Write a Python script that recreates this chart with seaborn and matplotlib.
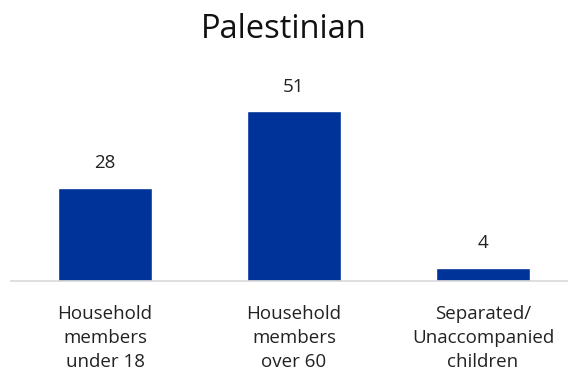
import matplotlib
matplotlib.use('Agg')
import matplotlib.pyplot as plt
import seaborn as sns
import pandas as pd

categories = ['Household\nmembers\nunder 18', 'Household\nmembers\nover 60', 'Separated/\nUnaccompanied\nchildren']
values = [28, 51, 4]

df = pd.DataFrame({'category': categories, 'value': values})

sns.set_style('white')
plt.rcParams['font.family'] = ['Open Sans', 'DejaVu Sans']

fig = plt.figure(figsize=(5.68, 3.8), dpi=100)
ax = fig.add_axes([10.5 / 568, 99 / 380, 567 / 568, 200 / 380])

sns.barplot(data=df, x='category', y='value', color='#003399', width=0.5,
            saturation=1, ax=ax)

for p, v in zip(ax.patches, values):
    ax.annotate(str(v), (p.get_x() + p.get_width() / 2, p.get_height()),
                xytext=(0, 11), textcoords='offset points',
                ha='center', va='bottom', fontsize=13.5, color='#222222',
                annotation_clip=False)

ax.set_ylim(0, 60)
ax.set_xlim(-0.5, 2.5)
ax.set_xlabel('')
ax.set_ylabel('')
ax.set_yticks([])
ax.tick_params(axis='x', length=0, pad=17, labelsize=13.5, colors='#222222')
for lbl in ax.get_xticklabels():
    lbl.set_linespacing(1.45)
for s in ['top', 'right', 'left']:
    ax.spines[s].set_visible(False)
ax.spines['bottom'].set_color('#d9d9d9')
ax.spines['bottom'].set_linewidth(1.2)

fig.text(0.5, 1 - 30 / 380, 'Palestinian', ha='center', va='center', fontsize=23.5, color='#111111')

fig.savefig('out.png', dpi=100)
